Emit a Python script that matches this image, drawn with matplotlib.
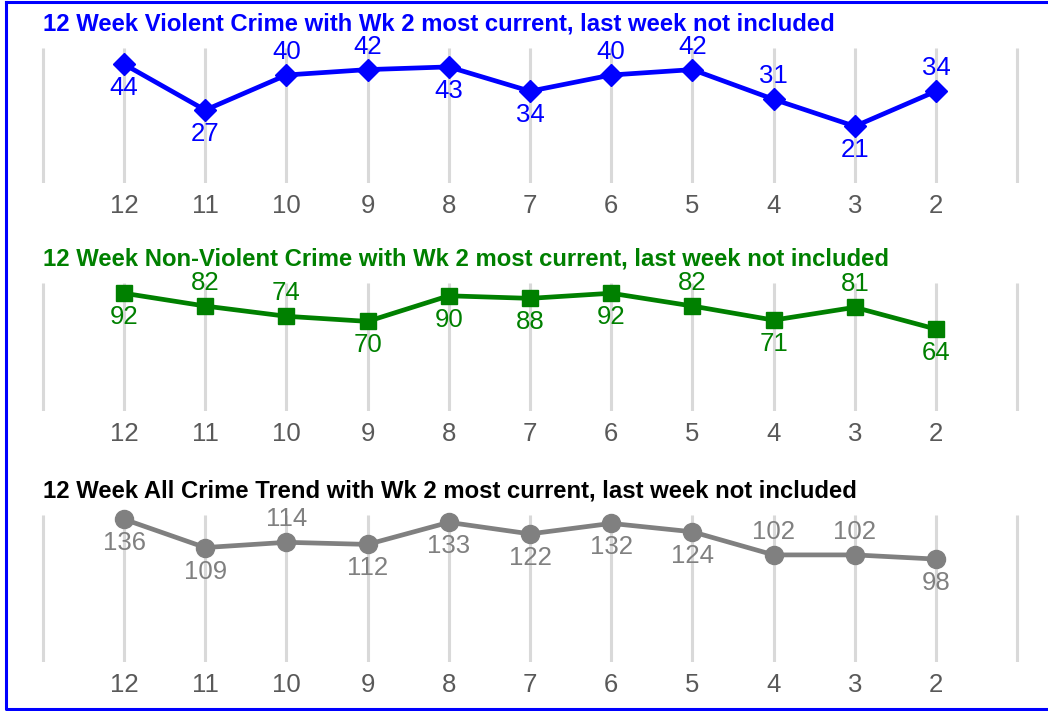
import matplotlib
matplotlib.use("Agg")
import matplotlib.pyplot as plt
from matplotlib.lines import Line2D

plt.rcParams['font.family'] = ['Liberation Sans', 'DejaVu Sans']

weeks = ['12', '11', '10', '9', '8', '7', '6', '5', '4', '3', '2']

violent = [44, 27, 40, 42, 43, 34, 40, 42, 31, 21, 34]
violent_pos = ['b', 'b', 'a', 'a', 'b', 'b', 'a', 'a', 'a', 'b', 'a']

nonviolent = [92, 82, 74, 70, 90, 88, 92, 82, 71, 81, 64]
nonviolent_pos = ['b', 'a', 'a', 'b', 'b', 'b', 'b', 'a', 'b', 'a', 'b']

allcrime = [136, 109, 114, 112, 133, 122, 132, 124, 102, 102, 98]
allcrime_pos = ['b', 'b', 'a', 'b', 'b', 'b', 'b', 'b', 'a', 'a', 'b']

titles = ['12 Week Violent Crime with Wk 2 most current, last week not included',
          '12 Week Non-Violent Crime with Wk 2 most current, last week not included',
          '12 Week All Crime Trend with Wk 2 most current, last week not included']

W, H = 1048, 711
fig = plt.figure(figsize=(W / 100, H / 100), dpi=100)

# panel setup: (values, label positions, ymax, colour, marker, size, grid top px, grid bottom px, title y px)
panels = [
    (violent, violent_pos, 50, '#0000ff', 'D', 11, 48, 183, 24),
    (nonviolent, nonviolent_pos, 100, '#008000', 's', 12, 283, 411, 259),
    (allcrime, allcrime_pos, 140, '#808080', 'o', 13, 515, 662, 491),
]

x0, px_unit = 124, 81.2   # pixel position of first week, pixels per week
xlo, xhi = -1.2, 11.2

for i, (vals, pos, ymax, col, mk, ms, top, bot, ty) in enumerate(panels):
    left = x0 + xlo * px_unit
    right = x0 + xhi * px_unit
    ax = fig.add_axes([left / W, (H - bot) / H, (right - left) / W, (bot - top) / H])
    ax.set_xlim(xlo, xhi)
    ax.set_ylim(0, ymax)
    ax.vlines(range(-1, 12), 0, ymax, color='#d9d9d9', lw=2.2, zorder=1)
    xs = list(range(len(vals)))
    ax.plot(xs, vals, color=col, lw=3.4, marker=mk, ms=ms, zorder=3, clip_on=False)
    for x, v, p in zip(xs, vals, pos):
        dy = 23 if p == 'a' else -24
        ax.annotate(str(v), (x, v), xytext=(0, dy), textcoords='offset pixels',
                    ha='center', va='center', fontsize=18.5, color=col)
    ax.set_xticks(xs)
    ax.set_xticklabels(weeks, fontsize=18.5, color='#595959')
    ax.tick_params(axis='x', length=0, pad=8)
    ax.set_yticks([])
    for s in ax.spines.values():
        s.set_visible(False)
    ax.patch.set_alpha(0)
    tcol = col if i < 2 else '#000000'
    fig.text(43 / W, (H - ty) / H, titles[i], color=tcol, fontsize=17.2,
             fontweight='bold', ha='left', va='center')

# blue frame (top, left, bottom)
fig.add_artist(Line2D([5.5 / W, 5.5 / W, 1.0], [1 - 2 / H, 1 - 709 / H, 1 - 709 / H],
                      color='#0000ff', lw=2.2, transform=fig.transFigure))
fig.add_artist(Line2D([5.5 / W, 1.0], [1 - 2 / H, 1 - 2 / H],
                      color='#0000ff', lw=2.2, transform=fig.transFigure))

fig.savefig('out.png', dpi=100)
